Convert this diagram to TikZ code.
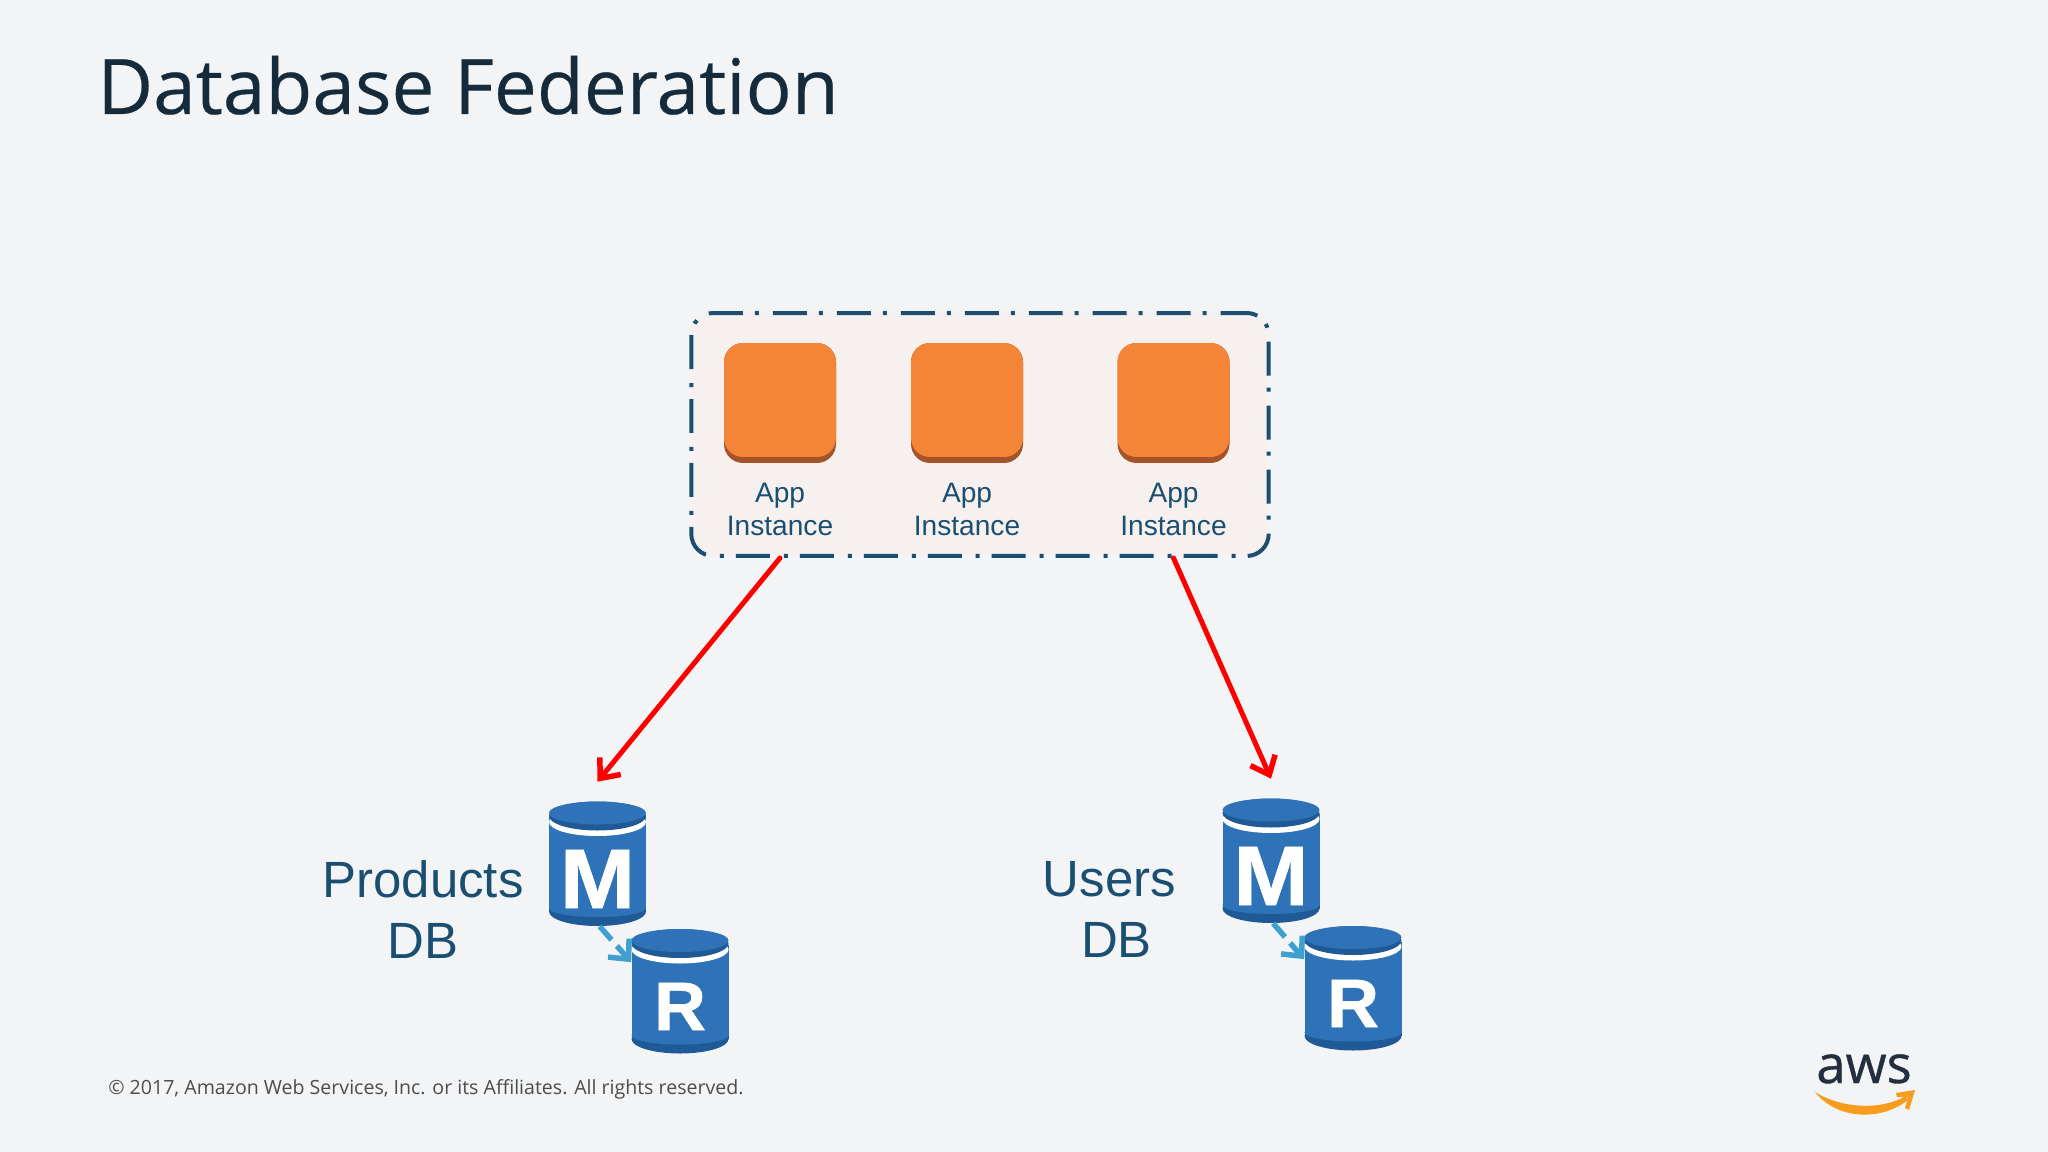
\documentclass[tikz,border=0pt]{standalone}
\usepackage{fontspec}
\usepackage{tikz}
\usetikzlibrary{shapes}
\usetikzlibrary{arrows.meta}
\setmainfont{Liberation Sans}
\newfontfamily\slidefont{Open Sans}
\newfontfamily\titlefont{Open Sans}[FakeBold=0.3]
\newfontfamily\awsfont{Open Sans}[FakeBold=0.7]
\newfontfamily\dbfont{Liberation Sans}[BoldFeatures={FakeBold=0.9}]

\definecolor{slidebg}{HTML}{F3F4F6}
\definecolor{groupbg}{HTML}{F6F1EE}
\definecolor{navy}{HTML}{1B4F72}
\definecolor{inkdark}{HTML}{152B3C}
\definecolor{orangetop}{HTML}{F58536}
\definecolor{orangebase}{HTML}{A5532A}
\definecolor{dbblue}{HTML}{2E73B8}
\definecolor{dbdark}{HTML}{1F5A96}
\definecolor{copyblue}{HTML}{3FA0CF}
\definecolor{smile}{HTML}{F79C1C}
\definecolor{awsink}{HTML}{232F3E}

\tikzset{
	groupbox/.style={draw=navy, fill=groupbg, line width=0.08cm, rounded corners=0.44cm,
		dash pattern=on 0.68cm off 0.28cm on 0.08cm off 0.24cm, dash phase=1.44cm,
		minimum width=11.55cm, minimum height=4.86cm, inner sep=0pt},
	appbase/.style={fill=orangebase, rounded corners=0.38cm, minimum width=2.24cm,
		minimum height=2.4cm, inner sep=0pt},
	apptop/.style={fill=orangetop, rounded corners=0.38cm, minimum width=2.24cm,
		minimum height=2.28cm, inner sep=0pt},
	applabel/.style={text=navy, align=center, inner sep=0pt,
		font=\fontsize{16}{19.3}\selectfont},
	dblabel/.style={text=navy, align=center, inner sep=0pt,
		font=\fontsize{29}{34.2}\selectfont},
	dbbox/.style={minimum width=1.94cm, minimum height=2.48cm, inner sep=0pt},
	dbletter/.style={text=white, inner sep=0pt, font=\dbfont\bfseries},
	request/.style={draw=red, line width=0.1cm, line cap=round,
		-{Straight Barb[length=0.32cm,width=0.54cm,line width=0.11cm]}},
	copyline/.style={draw=copyblue, line width=0.11cm, dash pattern=on 0.36cm off 0.16cm,
		-{Straight Barb[length=0.3cm,width=0.56cm,line width=0.11cm]}}
}

\newcommand{\dbM}{\fontsize{48}{48}\selectfont\scalebox{1.07}[1]{M}}
\newcommand{\dbR}{\fontsize{39}{39}\selectfont\scalebox{1.05}[1]{R}}

\newcommand{\dbcyl}[4]{
	\begin{scope}[shift={(#2,#3)}]
		\fill[dbdark] (0,47.5) ellipse [x radius=48.5, y radius=14.5];
		\fill[dbdark] (-48.5,-47) rectangle (48.5,47.5);
		\fill[dbblue] (0,44) ellipse [x radius=48.5, y radius=9];
		\fill[dbblue] (-48.5,-47) rectangle (48.5,44);
		\fill[white] (0,-42) ellipse [x radius=48.5, y radius=14];
		\fill[dbdark] (0,-48) ellipse [x radius=48.5, y radius=14.5];
		\fill[dbblue] (0,-51) ellipse [x radius=48.5, y radius=11.5];
	\end{scope}
	\node[dbbox] (#1) at (#2,#3) {};
	\node[dbletter] (#1T) at (#2,#3+15) {#4};
}

\begin{document}
\begin{tikzpicture}[x=0.02cm, y=-0.02cm]
	\useasboundingbox (0,0) rectangle (2048,1152);
	\fill[slidebg] (0,0) rectangle (2048,1152);

	\node[text=inkdark, anchor=base west, inner sep=0pt, font=\titlefont\fontsize{43.6}{44}\selectfont] (title) at (97,114) {Database Federation};

	\node[groupbox] (group) at (980,434.5) {};

	\node[appbase] (appA) at (780,403) {};
	\node[appbase] (appB) at (967,403) {};
	\node[appbase] (appC) at (1173.5,403) {};
	\node[apptop] at (780,400) {};
	\node[apptop] at (967,400) {};
	\node[apptop] at (1173.5,400) {};
	\node[applabel] (labelA) at (780,509.5) {App\\Instance};
	\node[applabel] (labelB) at (967,509.5) {App\\Instance};
	\node[applabel] (labelC) at (1173.5,509.5) {App\\Instance};

	\dbcyl{prodM}{597.5}{864}{\dbM}
	\dbcyl{prodR}{680}{991.5}{\dbR}
	\dbcyl{userM}{1271}{861}{\dbM}
	\dbcyl{userR}{1353}{988.5}{\dbR}

	\node[dblabel] (prodLabel) at (423,909.5) {Products\\DB};
	\node[dblabel] (userLabel) at (1113,909.5) {Users\hspace*{0.14cm}\\\hspace*{0.14cm}DB};

	\coordinate (prodIn) at ([yshift=0.4cm]prodM.north);
	\coordinate (userIn) at ([yshift=0.4cm]userM.north);
	\draw[request] (appA |- group.south) -- (prodIn);
	\draw[request] (appC |- group.south) -- (userIn);
	\draw[copyline] (prodM.-88) -- (prodR.149);
	\draw[copyline] (userM.-88) -- (userR.149);

	\node[text=black!70, anchor=base west, inner sep=0pt, font=\slidefont\fontsize{11.14}{11}\selectfont] (copyright) at (108,1094) {© 2017, Amazon Web Services, Inc. or its Affiliates. All rights reserved.};

	\node[text=awsink, anchor=base, inner sep=0pt, font=\awsfont\fontsize{30}{30}\selectfont] (aws) at (1864,1083) {aws};
	\fill[smile] (1815,1092) .. controls (1840,1108) and (1880,1111) .. (1906,1096) -- (1908,1100) .. controls (1880,1122) and (1836,1119) .. cycle;
	\fill[smile] (1896,1093) -- (1915,1090) -- (1909,1110) -- (1905,1108) -- (1908,1097) -- (1897,1097) -- cycle;
\end{tikzpicture}
\end{document}
